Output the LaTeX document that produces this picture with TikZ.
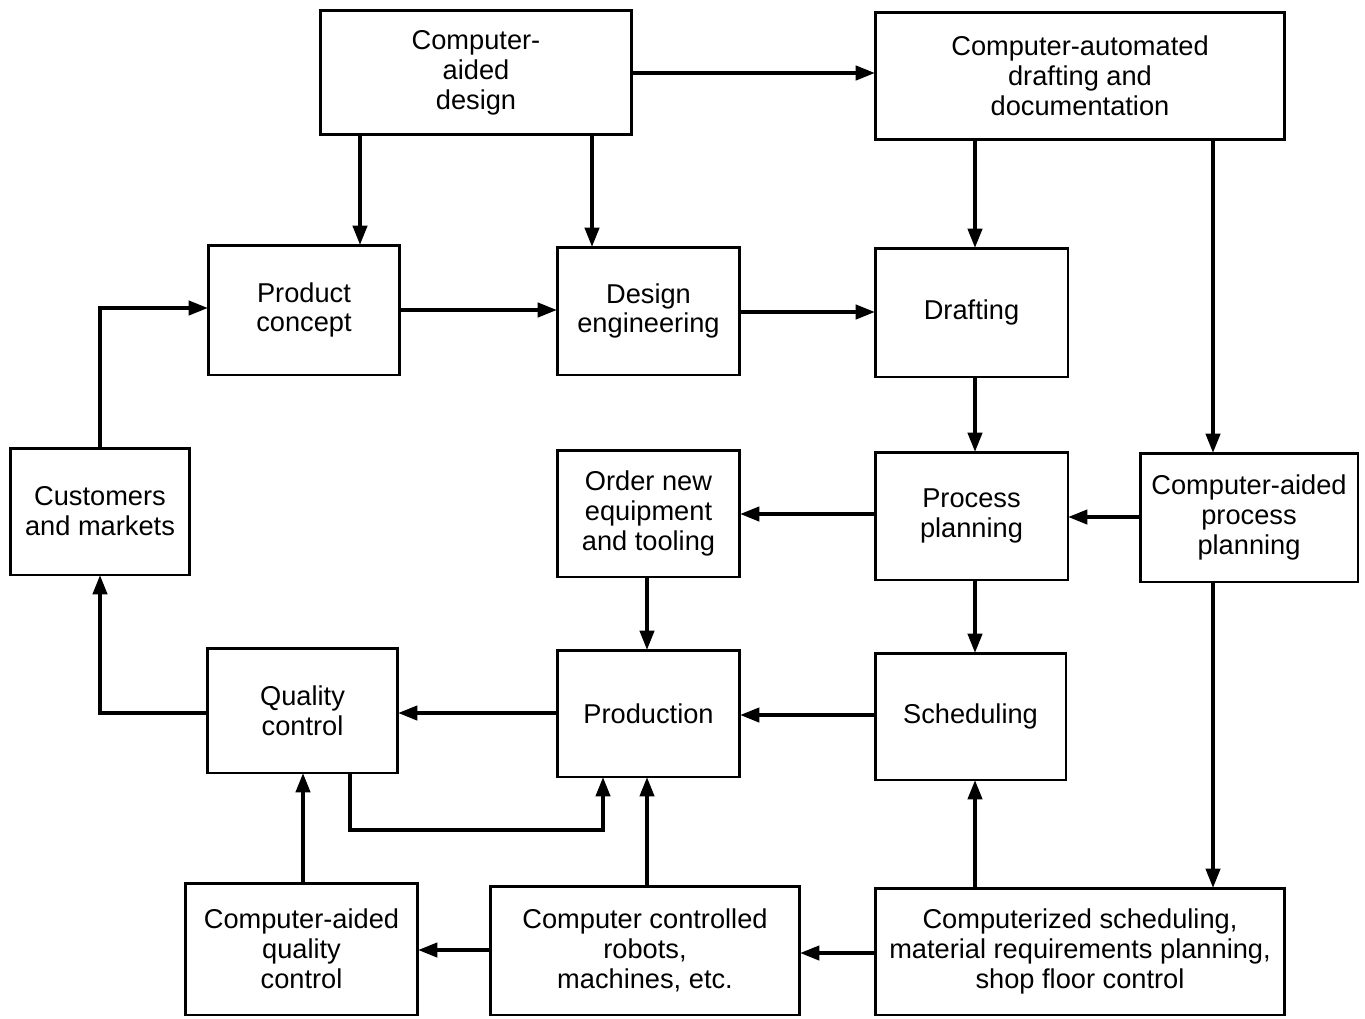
\documentclass[tikz,border=0pt]{standalone}
\usepackage{fontspec}
\setmainfont{Liberation Sans}
\usetikzlibrary{arrows.meta}
\begin{document}
\begin{tikzpicture}[x=0.02cm,y=-0.02cm,
  box/.style={draw, line width=1.7pt, rectangle, inner sep=0pt, outer sep=0pt, align=center,
    font=\fontsize{15.5}{17}\selectfont},
  arr/.style={line width=2.2pt, -{Triangle[length=11pt,width=8pt]}}]
\useasboundingbox (0,0) rectangle (1365,1018);
\node[box, minimum width=6.24cm, minimum height=2.5cm] (cad) at (476,72.5) {Computer-\\aided\\design};
\node[box, minimum width=8.2cm, minimum height=2.56cm] (cadd) at (1080,76) {Computer-automated\\drafting and\\documentation};
\node[box, minimum width=3.84cm, minimum height=2.6cm] (pc) at (304,310) {Product\\concept};
\node[box, minimum width=3.66cm, minimum height=2.56cm] (de) at (648.5,311) {Design\\engineering};
\node[box, minimum width=3.86cm, minimum height=2.58cm] (dr) at (971.5,312.5) {Drafting};
\node[box, minimum width=3.6cm, minimum height=2.54cm] (cm) at (100,511.5) {Customers\\and markets};
\node[box, minimum width=3.66cm, minimum height=2.54cm] (on) at (648.5,513.5) {Order new\\equipment\\and tooling};
\node[box, minimum width=3.86cm, minimum height=2.56cm] (pp) at (971.5,516) {Process\\planning};
\node[box, minimum width=4.36cm, minimum height=2.58cm] (capp) at (1249,517.5) {Computer-aided\\process\\planning};
\node[box, minimum width=3.82cm, minimum height=2.5cm] (qc) at (302.5,710.5) {Quality\\control};
\node[box, minimum width=3.66cm, minimum height=2.54cm] (pr) at (648.5,713.5) {Production};
\node[box, minimum width=3.82cm, minimum height=2.54cm] (sc) at (970.5,716.5) {Scheduling};
\node[box, minimum width=4.66cm, minimum height=2.64cm] (caqc) at (301.5,949) {Computer-aided\\quality\\control};
\node[box, minimum width=6.2cm, minimum height=2.58cm] (rb) at (645,950.5) {Computer controlled\\robots,\\machines, etc.};
\node[box, minimum width=8.2cm, minimum height=2.54cm] (cs) at (1080,951.5) {Computerized scheduling,\\material requirements planning,\\shop floor control};
% helper coordinates
\coordinate (xa) at (360,0); \coordinate (xb) at (592,0); \coordinate (xc) at (975,0);
\coordinate (xd) at (1213,0); \coordinate (xe) at (647,0); \coordinate (xf) at (100,0);
\coordinate (xg) at (303,0); \coordinate (xh) at (350,0); \coordinate (xi) at (603,0);
\coordinate (ya) at (0,73); \coordinate (yb) at (0,310); \coordinate (yc) at (0,312);
\coordinate (yd) at (0,517); \coordinate (ye) at (0,514); \coordinate (yf) at (0,715);
\coordinate (yg) at (0,713); \coordinate (yh) at (0,308); \coordinate (yi) at (0,830);
\coordinate (yj) at (0,950); \coordinate (yk) at (0,953);
% connectors
\draw[arr] (cad.east |- ya) -- (cadd.west |- ya);
\draw[arr] (cad.south -| xa) -- (pc.north -| xa);
\draw[arr] (cad.south -| xb) -- (de.north -| xb);
\draw[arr] (cadd.south -| xc) -- (dr.north -| xc);
\draw[arr] (cadd.south -| xd) -- (capp.north -| xd);
\draw[arr] (pc.east |- yb) -- (de.west |- yb);
\draw[arr] (de.east |- yc) -- (dr.west |- yc);
\draw[arr] (dr.south -| xc) -- (pp.north -| xc);
\draw[arr] (capp.west |- yd) -- (pp.east |- yd);
\draw[arr] (pp.west |- ye) -- (on.east |- ye);
\draw[arr] (on.south -| xe) -- (pr.north -| xe);
\draw[arr] (pp.south -| xc) -- (sc.north -| xc);
\draw[arr] (sc.west |- yf) -- (pr.east |- yf);
\draw[arr] (pr.west |- yg) -- (qc.east |- yg);
\draw[arr] (qc.west |- yg) -| (cm.south -| xf);
\draw[arr] (cm.north -| xf) |- (pc.west |- yh);
\draw[arr] (qc.south -| xh) |- (xi |- yi) -- (pr.south -| xi);
\draw[arr] (caqc.north -| xg) -- (qc.south -| xg);
\draw[arr] (rb.north -| xe) -- (pr.south -| xe);
\draw[arr] (rb.west |- yj) -- (caqc.east |- yj);
\draw[arr] (cs.west |- yk) -- (rb.east |- yk);
\draw[arr] (cs.north -| xc) -- (sc.south -| xc);
\draw[arr] (capp.south -| xd) -- (cs.north -| xd);
\end{tikzpicture}
\end{document}
